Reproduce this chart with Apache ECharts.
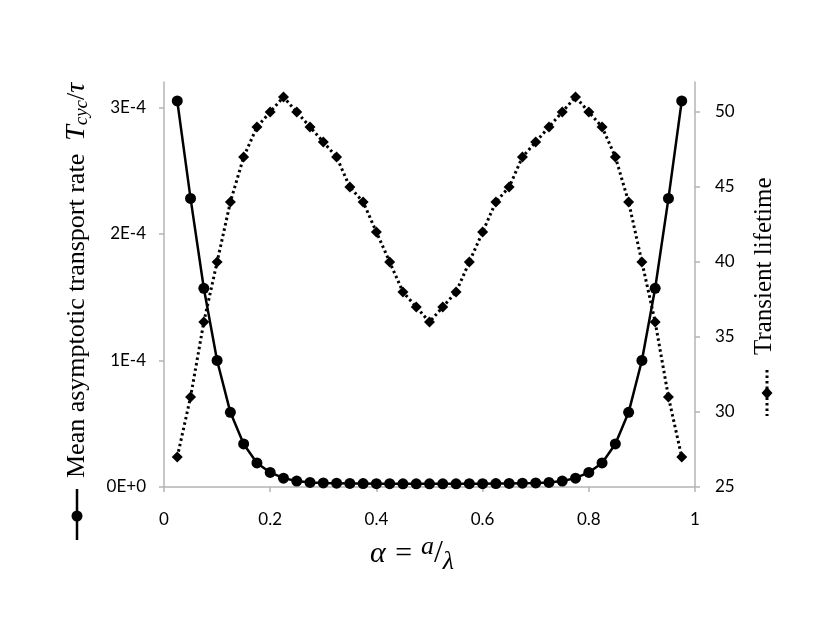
<!DOCTYPE html>
<html>
<head>
<meta charset="utf-8">
<script src="https://cdn.jsdelivr.net/npm/echarts@6/dist/echarts.min.js"></script>
<style>
  html, body { margin: 0; padding: 0; background: #fff; }
  #chart { width: 830px; height: 618px; }
</style>
</head>
<body>
<div id="chart"></div>
<script>
// alpha = a / lambda
const alphaValues = [
  0.025, 0.05, 0.075, 0.1, 0.125, 0.15, 0.175, 0.2, 0.225, 0.25,
  0.275, 0.3, 0.325, 0.35, 0.375, 0.4, 0.425, 0.45, 0.475, 0.5,
  0.525, 0.55, 0.575, 0.6, 0.625, 0.65, 0.675, 0.7, 0.725, 0.75,
  0.775, 0.8, 0.825, 0.85, 0.875, 0.9, 0.925, 0.95, 0.975
]
// mean asymptotic transport rate, in units of 1E-4
const transportRate = [
  3.05, 2.28, 1.57, 1.00, 0.59, 0.34, 0.19, 0.115, 0.07, 0.047,
  0.036, 0.032, 0.030, 0.028, 0.027, 0.026, 0.026, 0.025, 0.025, 0.025,
  0.025, 0.025, 0.026, 0.026, 0.027, 0.028, 0.030, 0.032, 0.036, 0.047,
  0.07, 0.115, 0.19, 0.34, 0.59, 1.00, 1.57, 2.28, 3.05
]
const transientLifetime = [
  27, 31, 36, 40, 44, 47, 49, 50, 51, 50,
  49, 48, 47, 45, 44, 42, 40, 38, 37, 36,
  37, 38, 40, 42, 44, 45, 47, 48, 49, 50,
  51, 50, 49, 47, 44, 40, 36, 31, 27
]
const xTicks = [0, 0.2, 0.4, 0.6, 0.8, 1]
const leftTicks = [0, 1e-4, 2e-4, 3e-4]
const rightTicks = [25, 30, 35, 40, 45, 50]

const chart = echarts.init(document.getElementById('chart'))

const axisGray = '#b4b4b4'
const labelFont = { color: '#000', fontFamily: 'Lato', fontSize: 17 }
const serif = 'Liberation Serif'

const option = {
  animation: false,
  grid: { left: 164, right: 135, top: 82, bottom: 131 },
  xAxis: {
    type: 'value',
    min: 0,
    max: 1,
    interval: 0.2,
    splitLine: { show: false },
    axisLine: { onZero: false, lineStyle: { color: axisGray, width: 1.5 } },
    axisTick: { show: true, length: 5, lineStyle: { color: axisGray, width: 1.5 }, customValues: xTicks },
    axisLabel: Object.assign({ margin: 24, customValues: xTicks }, labelFont)
  },
  yAxis: [
    {
      type: 'value',
      position: 'left',
      min: 0,
      max: 3.2e-4,
      interval: 1e-4,
      splitLine: { show: false },
      axisLine: { show: true, lineStyle: { color: axisGray, width: 1.5 } },
      axisTick: { show: true, length: 5, lineStyle: { color: axisGray, width: 1.5 }, customValues: leftTicks },
      axisLabel: Object.assign({
        margin: 18,
        customValues: leftTicks,
        formatter: v => v === 0 ? '0E+0' : Math.round(v * 1e4) + 'E-4'
      }, labelFont)
    },
    {
      type: 'value',
      position: 'right',
      min: 25,
      max: 52,
      interval: 5,
      splitLine: { show: false },
      axisLine: { show: true, lineStyle: { color: axisGray, width: 1.5 } },
      axisTick: { show: true, length: 5, lineStyle: { color: axisGray, width: 1.5 }, customValues: rightTicks },
      axisLabel: Object.assign({ margin: 20, customValues: rightTicks }, labelFont)
    }
  ],
  series: [
    {
      name: 'Transient lifetime',
      type: 'line',
      yAxisIndex: 1,
      data: alphaValues.map((x, i) => [x, transientLifetime[i]]),
      symbol: 'diamond',
      symbolSize: 11,
      itemStyle: { color: '#000' },
      lineStyle: { color: '#000', width: 3, type: [2.5, 3] },
      z: 2
    },
    {
      name: 'Mean asymptotic transport rate',
      type: 'line',
      yAxisIndex: 0,
      data: alphaValues.map((x, i) => [x, transportRate[i] * 1e-4]),
      symbol: 'circle',
      symbolSize: 11,
      itemStyle: { color: '#000' },
      lineStyle: { color: '#000', width: 2.5 },
      z: 3
    }
  ],
  graphic: [
    // left axis title, starts at the bottom and reads upward
    {
      type: 'text',
      x: 77,
      y: 478,
      rotation: Math.PI / 2,
      style: {
        text: '{n|Mean asymptotic transport rate  }{i|T}{s|cyc}{n|/}{i|τ}',
        align: 'left',
        verticalAlign: 'middle',
        rich: {
          n: { fontFamily: serif, fontSize: 26, color: '#000' },
          i: { fontFamily: serif, fontStyle: 'italic', fontSize: 28, color: '#000' },
          s: { fontFamily: serif, fontStyle: 'italic', fontSize: 19, color: '#000', padding: [10, 0, 0, 0] }
        }
      }
    },
    // left legend key
    { type: 'line', shape: { x1: 77, y1: 489, x2: 77, y2: 540 }, style: { stroke: '#000', lineWidth: 2.5 } },
    { type: 'circle', shape: { cx: 77, cy: 516, r: 5.5 }, style: { fill: '#000' } },
    // right axis title
    {
      type: 'text',
      x: 764,
      y: 355,
      rotation: Math.PI / 2,
      style: {
        text: 'Transient lifetime',
        align: 'left',
        verticalAlign: 'middle',
        fontFamily: serif,
        fontSize: 25,
        fill: '#000'
      }
    },
    // right legend key
    { type: 'line', shape: { x1: 767, y1: 370, x2: 767, y2: 416 }, style: { stroke: '#000', lineWidth: 3, lineDash: [2.5, 3] } },
    { type: 'polygon', shape: { points: [[767, 387], [772.5, 393], [767, 399], [761.5, 393]] }, style: { fill: '#000' } },
    // x axis title
    {
      type: 'text',
      x: 412,
      y: 554,
      style: {
        text: '{i|α = }{sup|a}{n|/}{sub|λ}',
        align: 'center',
        verticalAlign: 'middle',
        rich: {
          i: { fontFamily: serif, fontStyle: 'italic', fontSize: 30, color: '#000' },
          n: { fontFamily: serif, fontSize: 32, color: '#000' },
          sup: { fontFamily: serif, fontStyle: 'italic', fontSize: 26, color: '#000', padding: [0, 0, 14, 0] },
          sub: { fontFamily: serif, fontStyle: 'italic', fontSize: 26, color: '#000', padding: [16, 0, 0, 0] }
        }
      }
    }
  ]
}

chart.setOption(option)
</script>
</body>
</html>
